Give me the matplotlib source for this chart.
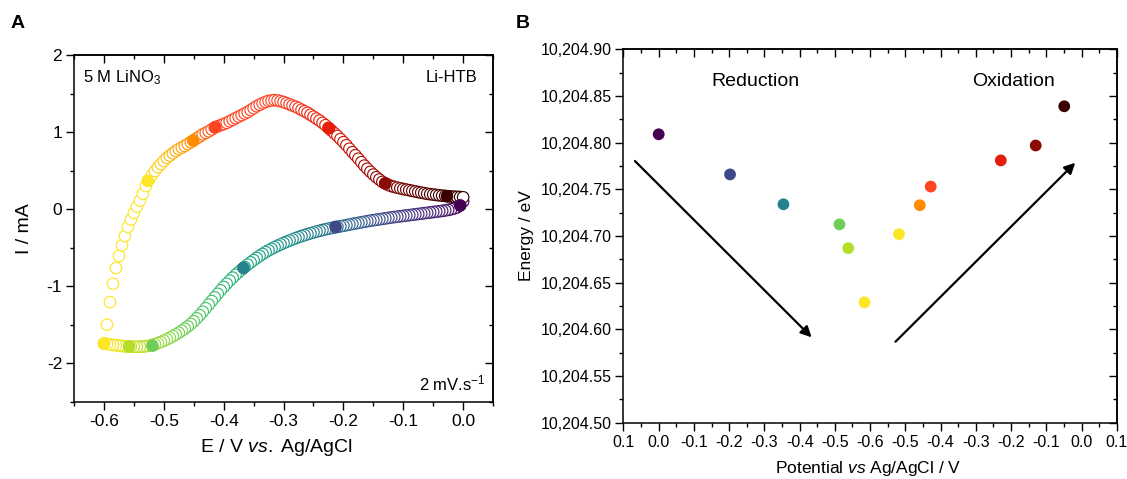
import numpy as np
import matplotlib
matplotlib.use("Agg")
import matplotlib.pyplot as plt
from matplotlib.ticker import MultipleLocator, FuncFormatter
from matplotlib.colors import LinearSegmentedColormap

plt.rcParams['font.family'] = ['Liberation Sans', 'DejaVu Sans']
plt.rcParams['mathtext.fontset'] = 'custom'
plt.rcParams['mathtext.rm'] = 'Liberation Sans'
plt.rcParams['mathtext.it'] = 'Liberation Sans:italic'
plt.rcParams['axes.unicode_minus'] = False

# ---------------- Panel A data: cyclic voltammogram ----------------
# reduction sweep (0 -> -0.6 V)
red_E = [0.000, -0.005, -0.010, -0.015, -0.020, -0.025, -0.030, -0.035, -0.040, -0.045,
         -0.050, -0.055, -0.060, -0.065, -0.070, -0.075, -0.080, -0.085, -0.090, -0.095,
         -0.100, -0.105, -0.110, -0.115, -0.120, -0.125, -0.130, -0.135, -0.140, -0.145,
         -0.150, -0.155, -0.160, -0.165, -0.170, -0.175, -0.180, -0.185, -0.190, -0.195,
         -0.200, -0.205, -0.210, -0.215, -0.220, -0.225, -0.230, -0.235, -0.240, -0.245,
         -0.250, -0.255, -0.260, -0.265, -0.270, -0.275, -0.280, -0.285, -0.290, -0.295,
         -0.300, -0.305, -0.310, -0.315, -0.320, -0.325, -0.330, -0.335, -0.340, -0.345,
         -0.350, -0.355, -0.360, -0.365, -0.370, -0.375, -0.380, -0.385, -0.390, -0.395,
         -0.400, -0.405, -0.410, -0.415, -0.420, -0.425, -0.430, -0.435, -0.440, -0.445,
         -0.450, -0.455, -0.460, -0.465, -0.470, -0.475, -0.480, -0.485, -0.490, -0.495,
         -0.500, -0.505, -0.510, -0.515, -0.520, -0.525, -0.530, -0.535, -0.540, -0.545,
         -0.550, -0.555, -0.560, -0.565, -0.570, -0.575, -0.580, -0.585, -0.590, -0.595,
         -0.600]
red_I = [0.100, 0.050, 0.025, 0.010, 0.000, -0.009, -0.016, -0.022, -0.027, -0.032,
         -0.037, -0.042, -0.047, -0.052, -0.057, -0.062, -0.067, -0.072, -0.077, -0.082,
         -0.087, -0.092, -0.097, -0.102, -0.107, -0.113, -0.119, -0.125, -0.131, -0.137,
         -0.143, -0.149, -0.156, -0.163, -0.170, -0.177, -0.184, -0.191, -0.199, -0.207,
         -0.215, -0.222, -0.229, -0.236, -0.244, -0.252, -0.261, -0.270, -0.280, -0.290,
         -0.301, -0.312, -0.324, -0.336, -0.349, -0.362, -0.376, -0.391, -0.406, -0.422,
         -0.439, -0.456, -0.474, -0.493, -0.513, -0.534, -0.556, -0.580, -0.605, -0.632,
         -0.660, -0.689, -0.719, -0.750, -0.782, -0.815, -0.850, -0.887, -0.926, -0.966,
         -1.008, -1.052, -1.097, -1.143, -1.190, -1.237, -1.284, -1.330, -1.374, -1.415,
         -1.453, -1.488, -1.520, -1.549, -1.576, -1.601, -1.624, -1.646, -1.667, -1.687,
         -1.705, -1.722, -1.737, -1.750, -1.761, -1.770, -1.776, -1.780, -1.783, -1.784,
         -1.784, -1.783, -1.781, -1.778, -1.774, -1.770, -1.765, -1.760, -1.754, -1.748,
         -1.742]
# oxidation sweep (-0.6 -> 0 V)
ox_E = [-0.595, -0.590, -0.585, -0.580, -0.575, -0.570, -0.565, -0.560, -0.555, -0.550,
        -0.545, -0.540, -0.535, -0.530, -0.525, -0.520, -0.515, -0.510, -0.505, -0.500,
        -0.495, -0.490, -0.485, -0.480, -0.475, -0.470, -0.465, -0.460, -0.455, -0.450,
        -0.445, -0.440, -0.435, -0.430, -0.425, -0.420, -0.415, -0.410, -0.405, -0.400,
        -0.395, -0.390, -0.385, -0.380, -0.375, -0.370, -0.365, -0.360, -0.355, -0.350,
        -0.345, -0.340, -0.335, -0.330, -0.325, -0.320, -0.315, -0.310, -0.305, -0.300,
        -0.295, -0.290, -0.285, -0.280, -0.275, -0.270, -0.265, -0.260, -0.255, -0.250,
        -0.245, -0.240, -0.235, -0.230, -0.225, -0.220, -0.215, -0.210, -0.205, -0.200,
        -0.195, -0.190, -0.185, -0.180, -0.175, -0.170, -0.165, -0.160, -0.155, -0.150,
        -0.145, -0.140, -0.135, -0.130, -0.125, -0.120, -0.115, -0.110, -0.105, -0.100,
        -0.095, -0.090, -0.085, -0.080, -0.075, -0.070, -0.065, -0.060, -0.055, -0.050,
        -0.045, -0.040, -0.035, -0.030, -0.025, -0.020, -0.015, -0.010, -0.005, 0.000]
ox_I = [-1.498, -1.204, -0.965, -0.762, -0.606, -0.468, -0.346, -0.229, -0.134, -0.048,
        0.035, 0.110, 0.200, 0.300, 0.380, 0.440, 0.495, 0.545, 0.585, 0.625,
        0.665, 0.695, 0.725, 0.755, 0.780, 0.800, 0.820, 0.845, 0.870, 0.895,
        0.920, 0.945, 0.970, 0.990, 1.010, 1.035, 1.060, 1.075, 1.090, 1.105,
        1.120, 1.140, 1.160, 1.180, 1.200, 1.220, 1.240, 1.260, 1.285, 1.310,
        1.335, 1.355, 1.375, 1.390, 1.405, 1.410, 1.415, 1.410, 1.400, 1.390,
        1.375, 1.360, 1.345, 1.330, 1.310, 1.290, 1.270, 1.250, 1.225, 1.200,
        1.175, 1.150, 1.120, 1.090, 1.055, 1.020, 0.985, 0.950, 0.910, 0.870,
        0.830, 0.785, 0.740, 0.700, 0.655, 0.610, 0.565, 0.525, 0.485, 0.450,
        0.415, 0.385, 0.355, 0.335, 0.315, 0.300, 0.290, 0.280, 0.270, 0.262,
        0.254, 0.246, 0.238, 0.230, 0.222, 0.215, 0.208, 0.200, 0.195, 0.190,
        0.185, 0.180, 0.176, 0.172, 0.168, 0.165, 0.162, 0.160, 0.158, 0.155]

# highlighted points on the CV (sweep order)
sel_E = [-0.005, -0.213, -0.367, -0.519, -0.558, -0.600,
         -0.527, -0.451, -0.414, -0.224, -0.130, -0.027]
sel_I = [0.050, -0.230, -0.762, -1.770, -1.780, -1.742,
         0.368, 0.890, 1.065, 1.050, 0.333, 0.169]
sel_colors = ['#440154', '#3e4989', '#26828e', '#6ece58', '#b5de2b', '#fde725',
              '#fce62a', '#ff8c00', '#ff4422', '#e41e0a', '#8b0a05', '#3a0000']

# ---------------- Panel B data ----------------
b_potential = [0.000, -0.2025, -0.354, -0.513, -0.538, -0.584,
               -0.518, -0.459, -0.428, -0.229, -0.130, -0.049]
b_sweep = ['red', 'red', 'red', 'red', 'red', 'red',
           'ox', 'ox', 'ox', 'ox', 'ox', 'ox']
b_energy = [10204.809, 10204.766, 10204.734, 10204.7125, 10204.687, 10204.629,
            10204.702, 10204.733, 10204.753, 10204.781, 10204.797, 10204.839]

# ---------------- figure ----------------
fig = plt.figure(figsize=(11.27, 4.79), dpi=100)
fig.patch.set_facecolor('white')

axA = fig.add_axes([0.0657, 0.1608, 0.3718, 0.7244])
axB = fig.add_axes([0.5532, 0.1175, 0.4377, 0.7795])

SPINE_LW = 1.1

# colours along the sweeps
red_cols = plt.get_cmap('viridis')(np.clip(-np.array(red_E) / 0.6, 0, 1))
ox_anchor_E = [-0.6, -0.527, -0.451, -0.414, -0.32, -0.224, -0.130, -0.027, 0.0]
ox_anchor_c = ['#fde725', '#fce62a', '#ff8c00', '#ff4422', '#ff4a28', '#e41e0a',
               '#8b0a05', '#3a0000', '#2e0000']
ox_cmap = LinearSegmentedColormap.from_list(
    'ox', list(zip([(e + 0.6) / 0.6 for e in ox_anchor_E], ox_anchor_c)))
ox_cols = ox_cmap((np.array(ox_E) + 0.6) / 0.6)

axA.scatter(red_E, red_I, s=68, facecolors='white', edgecolors=red_cols,
            linewidths=0.85, zorder=2)
axA.scatter(ox_E, ox_I, s=68, facecolors='white', edgecolors=ox_cols,
            linewidths=0.85, zorder=3)
axA.scatter(sel_E, sel_I, s=82, c=sel_colors, edgecolors='none', zorder=4)

axA.set_xlim(-0.65, 0.05)
axA.set_ylim(-2.5, 2.0)
axA.xaxis.set_major_locator(MultipleLocator(0.1))
axA.xaxis.set_minor_locator(MultipleLocator(0.05))
axA.yaxis.set_major_locator(MultipleLocator(1))
axA.yaxis.set_minor_locator(MultipleLocator(0.5))
axA.xaxis.set_major_formatter(FuncFormatter(lambda v, p: f"{v:.1f}" if abs(v) > 1e-9 else "0.0"))
axA.yaxis.set_major_formatter(FuncFormatter(lambda v, p: f"{int(round(v))}"))
axA.tick_params(axis='both', which='major', direction='out', length=5.5, width=1.0,
                labelsize=12.5, pad=3)
axA.tick_params(axis='both', which='minor', direction='out', length=3, width=1.0)
for s in axA.spines.values():
    s.set_linewidth(SPINE_LW)

secAx = axA.secondary_xaxis('top')
secAx.xaxis.set_major_locator(MultipleLocator(0.1))
secAx.xaxis.set_minor_locator(MultipleLocator(0.05))
secAx.tick_params(axis='x', which='major', direction='in', length=5.5, width=1.0, labeltop=False)
secAx.tick_params(axis='x', which='minor', direction='in', length=3, width=1.0)
secAy = axA.secondary_yaxis('right')
secAy.yaxis.set_major_locator(MultipleLocator(1))
secAy.yaxis.set_minor_locator(MultipleLocator(0.5))
secAy.tick_params(axis='y', which='major', direction='in', length=5.5, width=1.0, labelright=False)
secAy.tick_params(axis='y', which='minor', direction='in', length=3, width=1.0)
for sa in (secAx, secAy):
    for s in sa.spines.values():
        s.set_linewidth(SPINE_LW)

axA.set_xlabel(r'E / V $\mathit{vs.}\;$Ag/AgCl', fontsize=14)
axA.set_ylabel('I / mA', fontsize=14)
axA.xaxis.set_label_coords(0.482, -0.100)
axA.yaxis.set_label_coords(-0.097, 0.50)

axA.text(0.021, 0.922, r'5 M LiNO$_3$', transform=axA.transAxes, fontsize=12,
         ha='left', va='baseline')
axA.text(0.9625, 0.922, 'Li-HTB', transform=axA.transAxes, fontsize=12,
         ha='right', va='baseline')
axA.text(0.981, 0.032, r'2 mV.s$^{-1}$', transform=axA.transAxes, fontsize=12,
         ha='right', va='baseline')

# ---------------- Panel B ----------------
def unfold(p, sweep):
    return 0.1 - p if sweep == 'red' else 1.3 + p

b_u = [unfold(p, s) for p, s in zip(b_potential, b_sweep)]
axB.scatter(b_u, b_energy, s=72, c=sel_colors, edgecolors='none', zorder=3)

def b_xfmt(u, pos):
    p = 0.1 - u if u <= 0.7 + 1e-9 else u - 1.3
    if abs(p) < 1e-9:
        p = 0.0
    return f"{p:.1f}"

axB.set_xlim(0.0, 1.4)
axB.set_ylim(10204.50, 10204.90)
axB.xaxis.set_major_locator(MultipleLocator(0.1))
axB.xaxis.set_minor_locator(MultipleLocator(0.05))
axB.yaxis.set_major_locator(MultipleLocator(0.05))
axB.yaxis.set_minor_locator(MultipleLocator(0.025))
axB.xaxis.set_major_formatter(FuncFormatter(b_xfmt))
axB.yaxis.set_major_formatter(FuncFormatter(lambda v, p: f"{v:,.2f}"))
axB.tick_params(axis='both', which='major', direction='out', length=5.5, width=1.0,
                labelsize=11.5, pad=3)
axB.tick_params(axis='both', which='minor', direction='out', length=3, width=1.0)
for s in axB.spines.values():
    s.set_linewidth(SPINE_LW)

secBx = axB.secondary_xaxis('top')
secBx.xaxis.set_major_locator(MultipleLocator(0.1))
secBx.xaxis.set_minor_locator(MultipleLocator(0.05))
secBx.tick_params(axis='x', which='major', direction='in', length=5.5, width=1.0, labeltop=False)
secBx.tick_params(axis='x', which='minor', direction='in', length=3, width=1.0)
secBy = axB.secondary_yaxis('right')
secBy.yaxis.set_major_locator(MultipleLocator(0.05))
secBy.yaxis.set_minor_locator(MultipleLocator(0.025))
secBy.tick_params(axis='y', which='major', direction='in', length=5.5, width=1.0, labelright=False)
secBy.tick_params(axis='y', which='minor', direction='in', length=3, width=1.0)
for sb in (secBx, secBy):
    for s in sb.spines.values():
        s.set_linewidth(SPINE_LW)

axB.set_xlabel(r'Potential $\mathit{vs}$ Ag/AgCl / V', fontsize=12.5)
axB.set_ylabel('Energy / eV', fontsize=12.5)
axB.xaxis.set_label_coords(0.496, -0.098)
axB.yaxis.set_label_coords(-0.181, 0.50)

axB.text(0.2668, 0.915, 'Reduction', transform=axB.transAxes, fontsize=14,
         ha='center', va='center')
axB.text(0.7898, 0.915, 'Oxidation', transform=axB.transAxes, fontsize=14,
         ha='center', va='center')

arrow_kw = dict(arrowstyle='-|>', color='black', lw=1.6, mutation_scale=16,
                shrinkA=0, shrinkB=0)
axB.annotate('', xy=(0.3815, 0.2287), xytext=(0.0233, 0.7009),
             xycoords='axes fraction', textcoords='axes fraction', arrowprops=arrow_kw)
axB.annotate('', xy=(0.9159, 0.6963), xytext=(0.5514, 0.2169),
             xycoords='axes fraction', textcoords='axes fraction', arrowprops=arrow_kw)

fig.text(0.016, 0.95, 'A', fontsize=14, fontweight='bold', ha='center', va='center')
fig.text(0.464, 0.95, 'B', fontsize=14, fontweight='bold', ha='center', va='center')

fig.savefig('out.png', dpi=100, facecolor='white')
